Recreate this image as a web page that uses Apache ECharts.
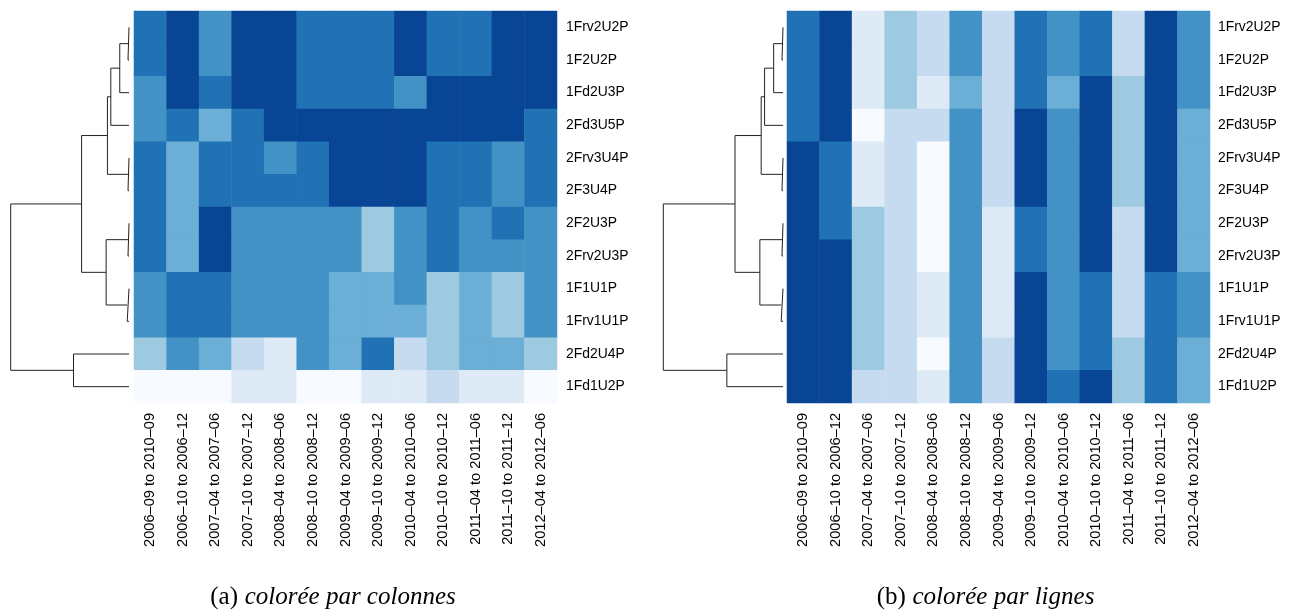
<!DOCTYPE html>
<html>
<head>
<meta charset="utf-8">
<script src="https://cdn.jsdelivr.net/npm/echarts@6/dist/echarts.min.js"></script>
<style>html,body{margin:0;padding:0;background:#fff}#c{width:1291px;height:613px}</style>
</head>
<body>
<div id="c"></div>
<script>
// ---- data ----
const rowLabels = ['1Frv2U2P','1F2U2P','1Fd2U3P','2Fd3U5P','2Frv3U4P','2F3U4P','2F2U3P','2Frv2U3P','1F1U1P','1Frv1U1P','2Fd2U4P','1Fd1U2P'];
const colLabels = ['2006–09 to 2010–09','2006–10 to 2006–12','2007–04 to 2007–06','2007–10 to 2007–12','2008–04 to 2008–06','2008–10 to 2008–12','2009–04 to 2009–06','2009–10 to 2009–12','2010–04 to 2010–06','2010–10 to 2010–12','2011–04 to 2011–06','2011–10 to 2011–12','2012–04 to 2012–06'];
const colourLevels = ['#F7FBFF','#DEEBF7','#C6DBEF','#9ECAE1','#6BAED6','#4292C6','#2171B5','#084594'];
// colour level (0..7) per row, per column — (a) coloured by columns
const levelsByColumns = [
  [6,7,5,7,7,6,6,6,7,6,6,7,7],
  [6,7,5,7,7,6,6,6,7,6,6,7,7],
  [5,7,6,7,7,6,6,6,5,7,7,7,7],
  [5,6,4,6,7,7,7,7,7,7,7,7,6],
  [6,4,6,6,5,6,7,7,7,6,6,5,6],
  [6,4,6,6,6,6,7,7,7,6,6,5,6],
  [6,4,7,5,5,5,5,3,5,6,5,6,5],
  [6,4,7,5,5,5,5,3,5,6,5,5,5],
  [5,6,6,5,5,5,4,4,5,3,4,3,5],
  [5,6,6,5,5,5,4,4,4,3,4,3,5],
  [3,5,4,2,1,5,4,6,2,3,4,4,3],
  [0,0,0,1,1,0,0,1,1,2,1,1,0]
];
// (b) coloured by rows
const levelsByRows = [
  [6,7,1,3,2,5,2,6,5,6,2,7,5],
  [6,7,1,3,2,5,2,6,5,6,2,7,5],
  [6,7,1,3,1,4,2,6,4,7,3,7,5],
  [6,7,0,2,2,5,2,7,5,7,3,7,4],
  [7,6,1,2,0,5,2,7,5,7,3,7,4],
  [7,6,1,2,0,5,2,7,5,7,3,7,4],
  [7,6,3,2,0,5,1,6,5,7,2,7,4],
  [7,7,3,2,0,5,1,6,5,7,2,7,4],
  [7,7,3,2,1,5,1,7,5,6,2,6,5],
  [7,7,3,2,1,5,1,7,5,6,2,6,5],
  [7,7,3,2,0,5,2,7,5,6,3,6,4],
  [7,7,2,2,1,5,2,7,6,7,3,6,4]
];
// hierarchical clustering of the rows (hclust style: negative = leaf, positive = earlier merge)
const mergeLeft  = [[-1,-2],[1,-3],[2,-4],[-5,-6],[3,4],[-7,-8],[-9,-10],[6,7],[5,8],[-11,-12],[9,10]];
const mergeHeight = [1, 9.3, 18.3, 1, 21.7, 1, 1.8, 23, 47.7, 55.8, 119];

// ---- build ----
function heatData(m){const d=[];m.forEach((r,i)=>r.forEach((v,j)=>d.push([j,i,v])));return d;}
function dendroSeries(xAxisIndex,yAxisIndex){
  const pos=[], hgt=[], out=[];
  const node = k => k<0 ? {y:-k-1,h:0} : {y:pos[k-1],h:hgt[k-1]};
  mergeLeft.forEach((m,i)=>{
    const a=node(m[0]), b=node(m[1]), h=mergeHeight[i];
    pos.push((a.y+b.y)/2); hgt.push(h);
    out.push({type:'line',xAxisIndex,yAxisIndex,symbol:'none',silent:true,animation:false,
      lineStyle:{color:'#222',width:1},
      data:[[a.h,a.y],[h,a.y],[h,b.y],[b.h,b.y]]});
  });
  return out;
}
const labelFont = 'Liberation Sans, Arial, Helvetica, sans-serif';
const grids = [
  {left:134, top:11, width:423, height:392},
  {left:787, top:11, width:423, height:392},
  {left:10.7, top:11, width:118.3, height:392},
  {left:663.3, top:11, width:119.7, height:392}
];
const xAxes = [0,1].map(g=>({type:'category',gridIndex:g,data:colLabels,
    axisLine:{show:false},axisTick:{show:false},splitLine:{show:false},
    axisLabel:{rotate:90,margin:10,fontSize:14.6,fontFamily:labelFont,color:'#000',interval:0}}))
  .concat([2,3].map(g=>({type:'value',gridIndex:g,min:0,max:mergeHeight[mergeHeight.length-1],inverse:true,show:false})));
const yAxes = [0,1].map(g=>({type:'category',gridIndex:g,data:rowLabels,inverse:true,position:'right',
    axisLine:{show:false},axisTick:{show:false},splitLine:{show:false},
    axisLabel:{margin:g===0?9:8,fontSize:13.9,fontFamily:labelFont,color:'#000',interval:0}}))
  .concat([2,3].map(g=>({type:'value',gridIndex:g,min:-0.5,max:rowLabels.length-0.5,inverse:true,show:false})));

const series = [
  {type:'heatmap',xAxisIndex:0,yAxisIndex:0,data:heatData(levelsByColumns),animation:false,itemStyle:{borderWidth:0}},
  {type:'heatmap',xAxisIndex:1,yAxisIndex:1,data:heatData(levelsByRows),animation:false,itemStyle:{borderWidth:0}}
].concat(dendroSeries(2,2), dendroSeries(3,3));

const serif = 'Liberation Serif, Times New Roman, serif';
const capStyle = {
  u:{fontFamily:serif,fontSize:25,color:'#000'},
  i:{fontFamily:serif,fontSize:25,fontStyle:'italic',color:'#000'}
};
const chart = echarts.init(document.getElementById('c'),null,{renderer:'canvas'});
chart.setOption({
  animation:false,
  backgroundColor:'#fff',
  grid:grids, xAxis:xAxes, yAxis:yAxes,
  visualMap:{type:'piecewise',show:false,seriesIndex:[0,1],dimension:2,
    pieces:colourLevels.map((c,i)=>({value:i,color:c}))},
  series:series,
  graphic:[
    {type:'text',x:333,y:597,style:{text:'{u|(a)}  {i|colorée par colonnes}',rich:capStyle,align:'center',verticalAlign:'middle'}},
    {type:'text',x:985.5,y:597,style:{text:'{u|(b)}  {i|colorée par lignes}',rich:capStyle,align:'center',verticalAlign:'middle'}}
  ]
});
</script>
</body>
</html>
